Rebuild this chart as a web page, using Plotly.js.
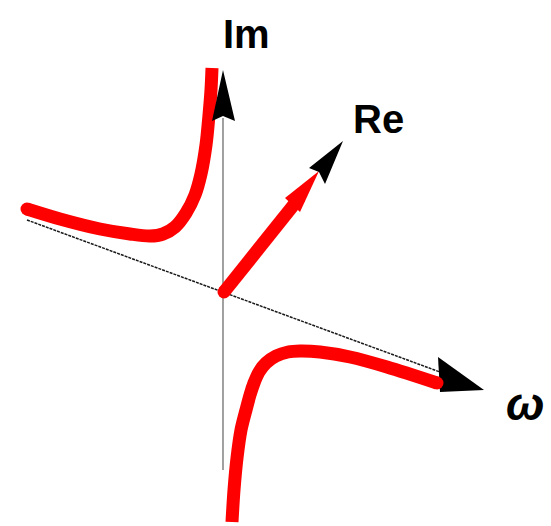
<!DOCTYPE html>
<html>
<head>
<meta charset="utf-8">
<script src="https://cdn.plot.ly/plotly-3.0.1.min.js"></script>
<style>
  html, body { margin: 0; padding: 0; background: #ffffff; }
  #chart { width: 551px; height: 526px; }
</style>
</head>
<body>
<div id="chart"></div>
<script>
// Sketch of Im(ω) drawn in an oblique (ω, Re, Im) frame, in screen-pixel units.

// Upper-left branch (ω < 0)
const upperX = [27, 60, 100, 130, 150, 163, 175, 186, 195, 201, 206, 209, 211, 212];
const upperY = [209, 219, 229, 234, 236, 234, 227, 213, 195, 174, 145, 115, 90, 68];

// Lower-right branch (ω > 0)
const lowerX = [232, 234, 237, 241, 246, 250, 254, 259, 266, 276, 288, 300, 320, 350, 387, 437];
const lowerY = [522, 490, 458, 430, 410, 395, 383, 372, 363, 356, 352, 351, 352, 357, 367, 383];

// Axes
const omegaAxisX = [27, 440];
const omegaAxisY = [220, 372];
const imAxisX = [223, 223];
const imAxisY = [470, 118];

// Re vector (red shaft with a red head)
const reShaftX = [224, 300];
const reShaftY = [292, 197];
const reRedHeadX = [285, 300, 319, 285];
const reRedHeadY = [198, 212, 171, 198];

// Black arrowheads
const imHeadX = [223, 235, 223, 212, 223];
const imHeadY = [70, 121, 116, 121, 70];
const reHeadX = [343, 325, 319, 309, 343];
const reHeadY = [141, 184, 172, 168, 141];
const omegaHeadX = [438, 484, 440, 438];
const omegaHeadY = [357, 390, 392, 357];

// Axis labels
const labels = [
  { text: 'Im', x: 246, y: 34, italic: false },
  { text: 'Re', x: 378, y: 119, italic: false },
  { text: 'ω', x: 525, y: 404, italic: true }
];

const RED = '#ff0000';
const LW = 13;

function head(xs, ys, color) {
  return { x: xs, y: ys, mode: 'lines', fill: 'toself', fillcolor: color,
           line: { width: 0, color: color }, hoverinfo: 'skip', showlegend: false };
}
function curve(xs, ys) {
  return { x: xs, y: ys, mode: 'lines',
           line: { color: RED, width: LW, shape: 'spline', smoothing: 0.9 },
           hoverinfo: 'skip', showlegend: false };
}
function cap(x, y) {
  return { x: [x], y: [y], mode: 'markers',
           marker: { color: RED, size: LW, line: { width: 0 } },
           hoverinfo: 'skip', showlegend: false };
}

const traces = [
  { x: imAxisX, y: imAxisY, mode: 'lines', line: { color: '#6e6e6e', width: 1.3 },
    hoverinfo: 'skip', showlegend: false },
  { x: omegaAxisX, y: omegaAxisY, mode: 'lines',
    line: { color: '#1a1a1a', width: 1.5, dash: '3px,1px' },
    hoverinfo: 'skip', showlegend: false },
  head(omegaHeadX, omegaHeadY, '#000000'),
  curve(upperX, upperY),
  cap(upperX[0], upperY[0]),
  curve(lowerX, lowerY),
  cap(lowerX[lowerX.length - 1], lowerY[lowerY.length - 1]),
  { x: reShaftX, y: reShaftY, mode: 'lines', line: { color: RED, width: LW },
    hoverinfo: 'skip', showlegend: false },
  cap(reShaftX[0], reShaftY[0]),
  head(reRedHeadX, reRedHeadY, RED),
  head(reHeadX, reHeadY, '#000000'),
  head(imHeadX, imHeadY, '#000000')
];

const annotations = labels.map(l => ({
  x: l.x, y: l.y, xref: 'x', yref: 'y', showarrow: false,
  text: l.italic ? '<b><i>' + l.text + '</i></b>' : '<b>' + l.text + '</b>',
  font: { family: 'Liberation Sans, Arial, sans-serif', size: l.italic ? 46 : 40, color: '#000000' },
  xanchor: 'center', yanchor: 'middle'
}));

const layout = {
  width: 551, height: 526,
  margin: { l: 0, r: 0, t: 0, b: 0 },
  paper_bgcolor: '#ffffff', plot_bgcolor: '#ffffff',
  xaxis: { range: [0, 551], visible: false, fixedrange: true },
  yaxis: { range: [526, 0], visible: false, fixedrange: true },
  annotations: annotations,
  showlegend: false
};

Plotly.newPlot('chart', traces, layout, { staticPlot: true, displayModeBar: false });
</script>
</body>
</html>
